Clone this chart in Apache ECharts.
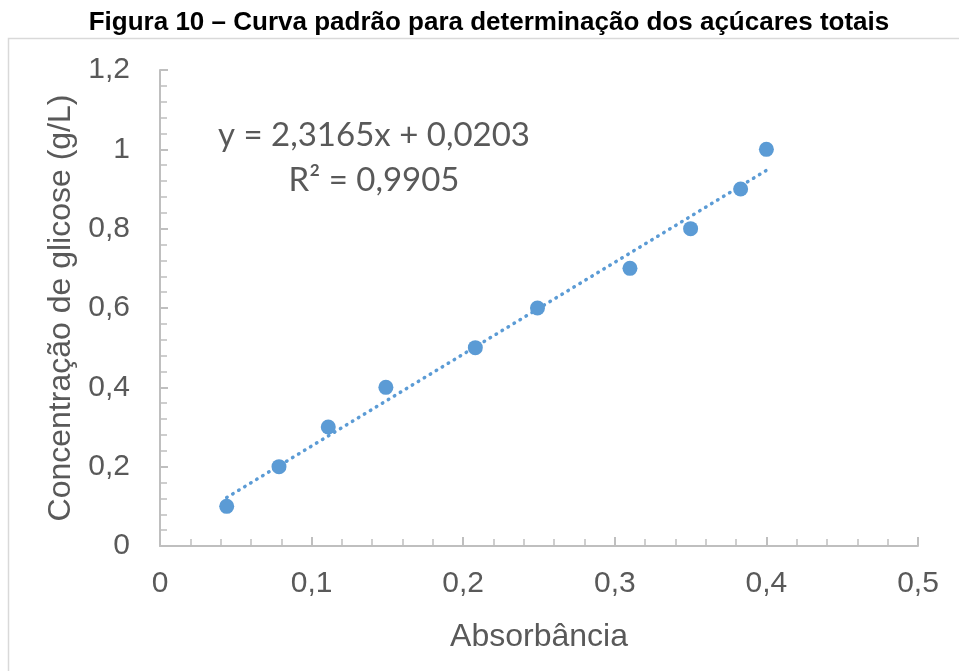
<!DOCTYPE html>
<html>
<head>
<meta charset="utf-8">
<script src="https://cdn.jsdelivr.net/npm/echarts@6/dist/echarts.min.js"></script>
<style>html,body{margin:0;padding:0;background:#fff}#c{width:959px;height:671px}</style>
</head>
<body>
<div id="c"></div>
<script>
const absorbancia = [0.044, 0.0785, 0.111, 0.149, 0.208, 0.249, 0.310, 0.350, 0.383, 0.400];
const glicose = [0.1, 0.2, 0.3, 0.4, 0.5, 0.6, 0.7, 0.8, 0.9, 1.0];
const trendSlope = 2.3165;
const trendIntercept = 0.0203;
const equationText = 'y = 2,3165x + 0,0203';
const r2Text = 'R² = 0,9905';
const titleText = 'Figura 10 – Curva padrão para determinação dos açúcares totais';
const xName = 'Absorbância';
const yName = 'Concentração de glicose (g/L)';

const points = absorbancia.map((x, i) => [x, glicose[i]]);
const xMin = Math.min(...absorbancia), xMax = Math.max(...absorbancia);
const trend = [[xMin, trendSlope * xMin + trendIntercept], [xMax, trendSlope * xMax + trendIntercept]];

const fmt = v => String(Math.round(v * 10) / 10).replace('.', ',');
const axisGray = '#bfbfbf';
const textGray = '#595959';

const chart = echarts.init(document.getElementById('c'), null, {renderer: 'canvas'});
chart.setOption({
  animation: false,
  backgroundColor: '#fff',
  grid: {left: 160, right: 41, top: 70, bottom: 125},
  graphic: [
    {type: 'rect', shape: {x: 8.5, y: 38.5, width: 1000, height: 700},
     style: {fill: 'none', stroke: '#d9d9d9', lineWidth: 1.5}, silent: true, z: -1},
    {type: 'text', x: 489, y: 23,
     style: {text: titleText, font: 'bold 26px "Liberation Sans", Arial, sans-serif', fill: '#000', align: 'center', verticalAlign: 'middle'}},
    {type: 'text', x: 374, y: 135,
     style: {text: equationText, font: '33px Lato, sans-serif', fill: textGray, align: 'center', verticalAlign: 'middle'}},
    {type: 'text', x: 374, y: 180,
     style: {text: r2Text, font: '33px Lato, sans-serif', fill: textGray, align: 'center', verticalAlign: 'middle'}}
  ],
  xAxis: {
    type: 'value', min: 0, max: 0.5, interval: 0.1,
    name: xName, nameLocation: 'middle', nameGap: 75,
    nameTextStyle: {fontFamily: '"Liberation Sans", Arial', fontSize: 32, color: textGray},
    axisLine: {show: true, lineStyle: {color: axisGray, width: 2}},
    axisTick: {show: true, inside: true, length: 9, lineStyle: {color: axisGray, width: 2}},
    minorTick: {show: true, splitNumber: 5, length: 7, lineStyle: {color: axisGray, width: 1.5}},
    splitLine: {show: false},
    axisLabel: {formatter: fmt, fontFamily: '"Liberation Sans", Arial', fontSize: 30, color: textGray, margin: 23}
  },
  yAxis: {
    type: 'value', min: 0, max: 1.2, interval: 0.2,
    name: yName, nameLocation: 'middle', nameGap: 82, nameRotate: 90,
    nameTextStyle: {fontFamily: '"Liberation Sans", Arial', fontSize: 32, color: textGray},
    axisLine: {show: true, lineStyle: {color: axisGray, width: 2}},
    axisTick: {show: true, inside: true, length: 8, lineStyle: {color: axisGray, width: 2}},
    minorTick: {show: true, splitNumber: 5, length: 7, lineStyle: {color: axisGray, width: 1.5}},
    splitLine: {show: false},
    axisLabel: {formatter: fmt, fontFamily: '"Liberation Sans", Arial', fontSize: 30, color: textGray, margin: 30}
  },
  series: [
    {type: 'line', data: trend, showSymbol: false, symbol: 'none', z: 1,
     lineStyle: {color: '#5b9bd5', width: 3.5, type: [0.5, 6.5], cap: 'round'}},
    {type: 'scatter', data: points, symbol: 'circle', symbolSize: 15, z: 2,
     itemStyle: {color: '#5b9bd5', opacity: 1}}
  ]
});
</script>
</body>
</html>
